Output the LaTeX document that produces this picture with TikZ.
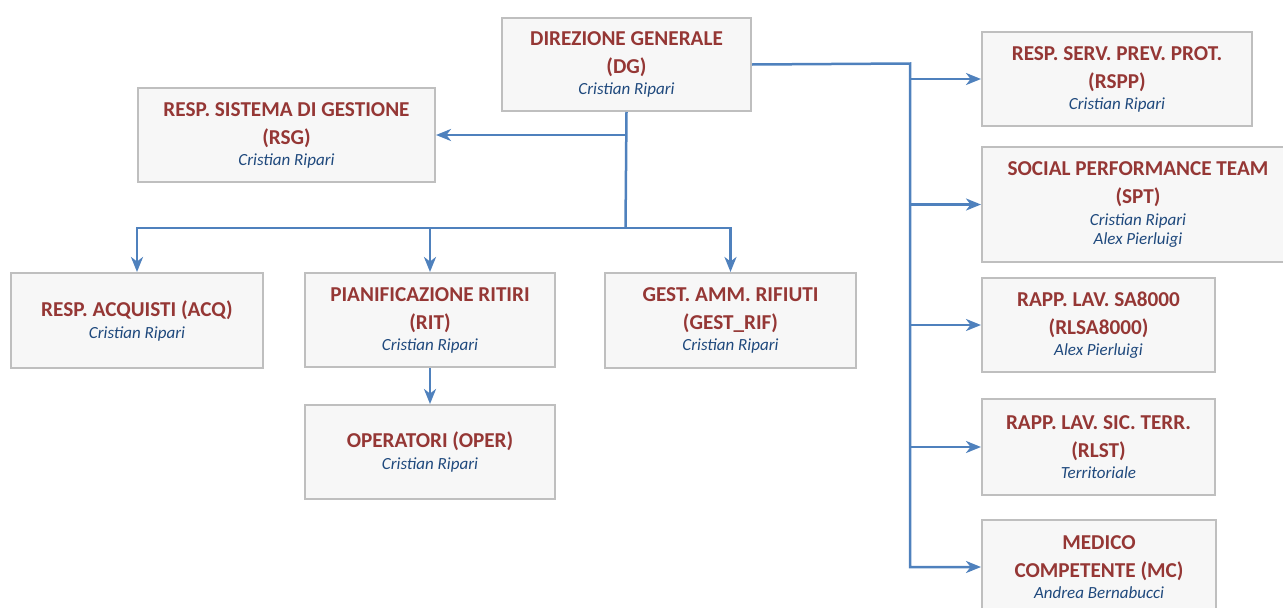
\documentclass[tikz,border=0pt]{standalone}
\usepackage{fontspec}
\setmainfont{Carlito}
\usetikzlibrary{arrows.meta}
\definecolor{tred}{HTML}{953735}
\definecolor{nblue}{HTML}{1F497D}
\definecolor{lblue}{HTML}{4F81BD}
\definecolor{bfill}{HTML}{F7F7F7}
\definecolor{bline}{HTML}{BFBFBF}
\newcommand{\ttl}[1]{{\bfseries\color{tred}#1}}
\newcommand{\nm}[1]{{\fontsize{17}{19}\selectfont\itshape\color{nblue}#1}}
\begin{document}
\begin{tikzpicture}[x=1pt,y=-1pt,
  box/.style={draw=bline, fill=bfill, line width=2pt, anchor=north west, align=center, inner sep=0pt, font=\fontsize{21.2}{28}\selectfont},
  conn/.style={draw=lblue, line width=2.5pt, line join=miter},
  tip/.tip={Stealth[length=15pt,width=12pt,inset=4.5pt]},
  arr/.style={conn, -tip},
  arr2/.style={conn, tip-tip}]
\useasboundingbox (0,0) rectangle (1283,608);
\clip (0,0) rectangle (1283,608);

\node[box, minimum width=249pt, minimum height=93pt] (dg) at (501,17) {\ttl{DIREZIONE GENERALE}\\\ttl{(DG)}\\[-7pt]\nm{Cristian Ripari}};
\node[box, minimum width=297pt, minimum height=94pt] (rsg) at (137,87) {\ttl{RESP. SISTEMA DI GESTIONE}\\\ttl{(RSG)}\\[-7pt]\nm{Cristian Ripari}};
\node[box, minimum width=270pt, minimum height=94pt] (rspp) at (981,31) {\ttl{RESP. SERV. PREV. PROT.}\\\ttl{(RSPP)}\\[-7pt]\nm{Cristian Ripari}};
\node[box, minimum width=320pt, minimum height=115pt] (spt) at (981,146) {};
\node[align=center, inner sep=0pt, font=\fontsize{21.2}{28}\selectfont] (spttxt) at (1138,205) {\ttl{SOCIAL PERFORMANCE TEAM}\\\ttl{(SPT)}\\[-6pt]\nm{Cristian Ripari}\\[-9pt]\nm{Alex Pierluigi}};
\node[box, minimum width=233pt, minimum height=94pt] (rlsa) at (981,277) {\ttl{RAPP. LAV. SA8000}\\\ttl{(RLSA8000)}\\[-7pt]\nm{Alex Pierluigi}};
\node[box, minimum width=233pt, minimum height=96pt] (rlst) at (981,398) {\ttl{RAPP. LAV. SIC. TERR.}\\\ttl{(RLST)}\\[-7pt]\nm{Territoriale}};
\node[box, minimum width=234pt, minimum height=94pt] (mc) at (981,519) {\ttl{MEDICO}\\\ttl{COMPETENTE (MC)}\\[-7pt]\nm{Andrea Bernabucci}};
\node[box, minimum width=252pt, minimum height=95pt] (acq) at (10,272) {\ttl{RESP. ACQUISTI (ACQ)}\\[-6pt]\nm{Cristian Ripari}};
\node[box, minimum width=250pt, minimum height=94pt] (rit) at (304,272) {\ttl{PIANIFICAZIONE RITIRI}\\\ttl{(RIT)}\\[-7pt]\nm{Cristian Ripari}};
\node[box, minimum width=251pt, minimum height=95pt] (gest) at (604,272) {\ttl{GEST. AMM. RIFIUTI}\\\ttl{(GEST\_RIF)}\\[-7pt]\nm{Cristian Ripari}};
\node[box, minimum width=250pt, minimum height=94pt] (oper) at (304,404) {\ttl{OPERATORI (OPER)}\\[-6pt]\nm{Cristian Ripari}};

% right bus
\coordinate (bus) at (910,63.5);
\draw[arr] (dg.east) -- (bus) -- (bus |- mc.west) -- (mc.west);
\draw[arr] (bus |- rspp.west) -- (rspp.west);
\draw[arr] (bus |- spt.west) -- (spt.west);
\draw[arr] (bus |- rlsa.west) -- (rlsa.west);
\draw[arr] (bus |- rlst.west) -- (rlst.west);

% left tree
\coordinate (j1) at (625.5,228);
\draw[conn] (dg.south) -- (j1);
\draw[arr] (dg.south |- rsg.east) -- (rsg.east);
\draw[arr2] (acq.north) -- (acq.north |- j1) -- (gest.north |- j1) -- (gest.north);
\draw[arr] (rit.north |- j1) -- (rit.north);
\draw[arr] (rit.south) -- (oper.north);
\end{tikzpicture}
\end{document}
